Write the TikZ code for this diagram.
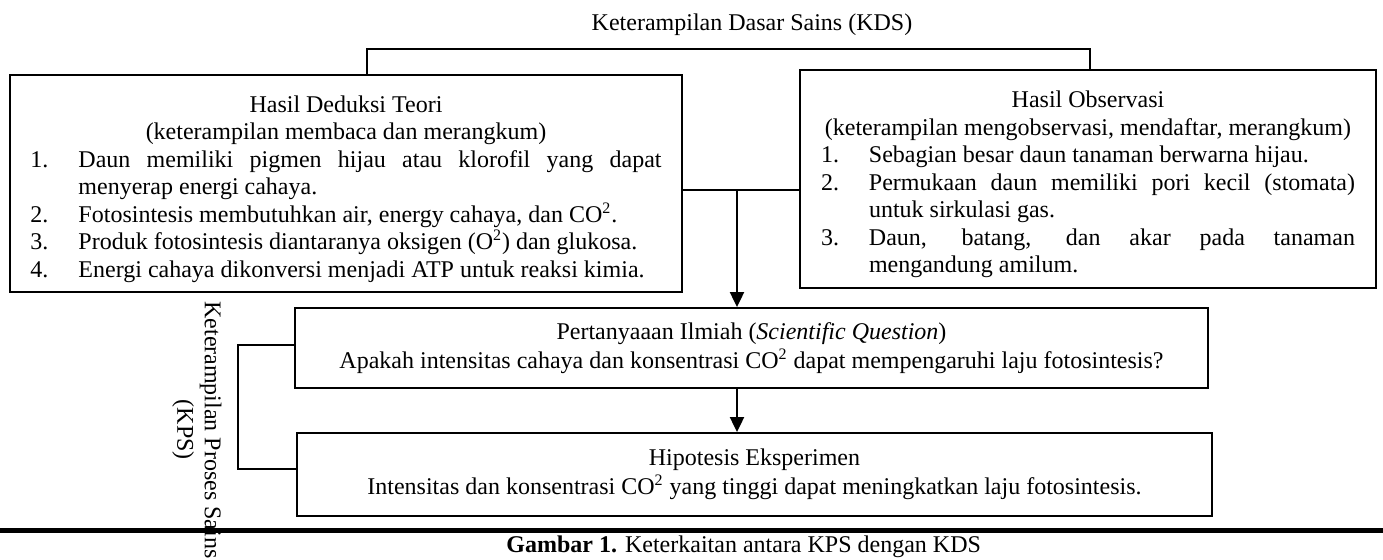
\documentclass[tikz,border=0pt]{standalone}
\usepackage{fontspec}
\setmainfont{Liberation Serif}
\usetikzlibrary{arrows.meta,calc}
\newcommand{\itm}[2]{\par\hangindent=24pt\hangafter=1\noindent\makebox[24pt][l]{#1}#2\par}
\newcommand{\ctrline}[1]{\par\noindent\makebox[\hsize][c]{#1}\par}
\begin{document}
\begin{tikzpicture}[x=0.5pt,y=-0.5pt,
  every node/.style={font=\fontsize{12}{13.75}\selectfont, inner sep=0pt},
  box/.style={draw, line width=0.9pt},
  thinline/.style={line width=0.6pt},
  flow/.style={line width=1pt, -{Triangle[length=7.5pt,width=7pt]}}]
\fill[white] (0,0) rectangle (1383,560);
\useasboundingbox (0,0) rectangle (1383,560);

\node (kds) at (752,25) {Keterampilan Dasar Sains (KDS)};

\node[box, minimum width=336pt, minimum height=108.5pt, text width=315.5pt, align=justify] (LB) at (346,183.5) {%
\ctrline{Hasil Deduksi Teori}%
\ctrline{(keterampilan membaca dan merangkum)}%
\itm{1.}{Daun memiliki pigmen hijau atau klorofil yang dapat\linebreak menyerap energi cahaya.}%
\itm{2.}{Fotosintesis membutuhkan air, energy cahaya, dan CO\textsuperscript{2}.}%
\itm{3.}{Produk fotosintesis diantaranya oksigen (O\textsuperscript{2}) dan glukosa.}%
\itm{4.}{Energi cahaya dikonversi menjadi ATP untuk reaksi kimia.}};

\node[box, minimum width=288pt, minimum height=109pt, text width=267pt, align=justify] (RB) at (1088,179) {%
\ctrline{Hasil Observasi}%
\ctrline{(keterampilan mengobservasi, mendaftar, merangkum)}%
\itm{1.}{Sebagian besar daun tanaman berwarna hijau.}%
\itm{2.}{Permukaan daun memiliki pori kecil (stomata)\linebreak untuk sirkulasi gas.}%
\itm{3.}{Daun, batang, dan akar pada tanaman\linebreak mengandung amilum.}};

\node[box, minimum width=456.5pt, minimum height=40pt, align=center] (Q) at (751.5,348)
  {Pertanyaaan Ilmiah (\textit{Scientific Question})\\[0.7pt]
   Apakah intensitas cahaya dan konsentrasi CO\textsuperscript{2} dapat mempengaruhi laju fotosintesis?};

\node[box, minimum width=457.5pt, minimum height=41.5pt, align=center] (H) at (754.5,474.5)
  {Hipotesis Eksperimen\\[0.5pt]
   Intensitas dan konsentrasi CO\textsuperscript{2} yang tinggi dapat meningkatkan laju fotosintesis.};

% KDS bracket
\coordinate (kdsL) at (367,49);
\coordinate (kdsR) at (1090,49);
\draw[thinline] (LB.north -| kdsL) -- (kdsL) -- (kdsR) -- (RB.north -| kdsR);

% join and arrows
\coordinate (join) at (737,190);
\draw[thinline] (LB.east |- join) -- (RB.west |- join);
\draw[flow] (join) -- (join |- Q.north);
\draw[flow] (Q.south -| join) -- (H.north -| join);

% KPS bracket
\coordinate (kpsT) at (238,345);
\coordinate (kpsB) at (238,469);
\draw[thinline] (Q.west |- kpsT) -- (kpsT) -- (kpsB) -- (H.west |- kpsB);

% page rule and caption
\draw[line width=2.5pt] (0,530.5) -- (1383,530.5);
\node[anchor=base west] (cap) at (506,553) {\textbf{Gambar 1.} Keterkaitan antara KPS dengan KDS};

\node[rotate=-90, align=center] (kps) at (197,430) {Keterampilan Proses Sains\\(KPS)};
\end{tikzpicture}
\end{document}
